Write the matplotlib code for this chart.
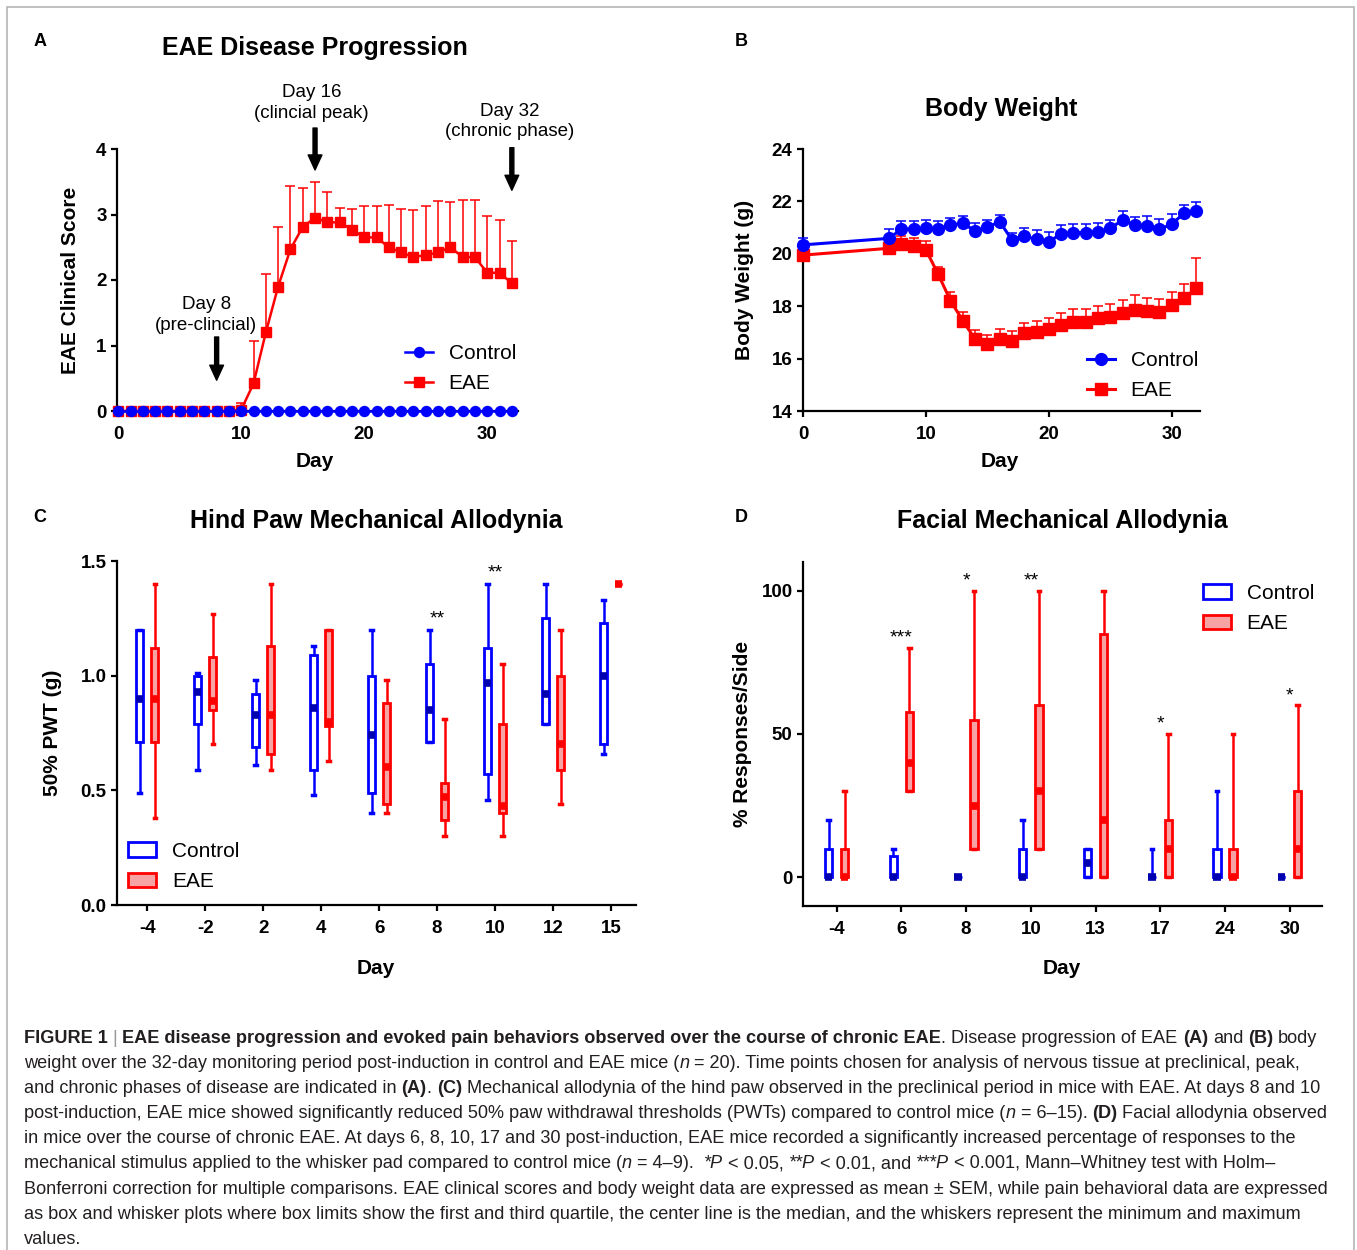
import matplotlib
matplotlib.use("Agg")
import matplotlib.pyplot as plt
import numpy as np
from matplotlib import font_manager
from matplotlib.font_manager import FontProperties
from matplotlib.lines import Line2D
from matplotlib.patches import Patch, Rectangle

# ---------------- data ----------------
# A: EAE clinical score (mean, upper SEM)
days_a = [0, 1, 2, 3, 4, 5, 6, 7, 8, 9, 10, 11, 12, 13, 14, 15, 16,
          17, 18, 19, 20, 21, 22, 23, 24, 25, 26, 27, 28, 29, 30, 31, 32]
ctrl_score = [0, 0, 0, 0, 0, 0, 0, 0, 0, 0, 0, 0, 0, 0, 0, 0, 0,
              0, 0, 0, 0, 0, 0, 0, 0, 0, 0, 0, 0, 0, 0, 0, 0]
eae_score = [0, 0, 0, 0, 0, 0, 0, 0, 0, 0, 0.02, 0.42, 1.20, 1.90, 2.47, 2.81, 2.95,
             2.88, 2.88, 2.77, 2.65, 2.65, 2.50, 2.42, 2.35, 2.38, 2.42, 2.50, 2.35, 2.35, 2.11, 2.11, 1.95]
eae_score_sem = [0, 0, 0, 0, 0, 0, 0, 0, 0, 0, 0.10, 0.65, 0.89, 0.91, 0.96, 0.60, 0.54,
                 0.47, 0.22, 0.32, 0.48, 0.48, 0.64, 0.67, 0.72, 0.75, 0.79, 0.69, 0.87, 0.87, 0.87, 0.80, 0.65]
arrow_days = [8, 16, 32]
arrow_labels = ["Day 8\n(pre-clincial)", "Day 16\n(clincial peak)", "Day 32\n(chronic phase)"]

# B: body weight (g)
days_b = [0, 7, 8, 9, 10, 11, 12, 13, 14, 15, 16, 17, 18, 19, 20,
          21, 22, 23, 24, 25, 26, 27, 28, 29, 30, 31, 32]
ctrl_weight = [20.34, 20.59, 20.94, 20.95, 20.97, 20.95, 21.10, 21.16, 20.88, 21.01, 21.23, 20.53, 20.68, 20.55,
               20.46, 20.76, 20.81, 20.81, 20.84, 20.97, 21.29, 21.10, 21.06, 20.94, 21.13, 21.55, 21.63]
ctrl_weight_sem = [0.28, 0.36, 0.31, 0.31, 0.32, 0.31, 0.28, 0.28, 0.31, 0.28, 0.25, 0.28, 0.32, 0.36,
                   0.36, 0.34, 0.32, 0.32, 0.32, 0.32, 0.34, 0.29, 0.38, 0.37, 0.39, 0.31, 0.36]
eae_weight = [19.95, 20.21, 20.36, 20.30, 20.15, 19.22, 18.21, 17.45, 16.74, 16.55, 16.75, 16.67, 16.99, 17.03,
              17.13, 17.28, 17.41, 17.41, 17.54, 17.60, 17.75, 17.85, 17.83, 17.79, 18.05, 18.30, 18.68]
eae_weight_sem = [0.25, 0.25, 0.32, 0.32, 0.34, 0.29, 0.32, 0.34, 0.35, 0.35, 0.37, 0.38, 0.36, 0.42,
                  0.41, 0.45, 0.47, 0.47, 0.48, 0.48, 0.49, 0.58, 0.49, 0.47, 0.48, 0.54, 1.15]

# C: hind paw 50% PWT (g) box stats
days_c = ["-4", "-2", "2", "4", "6", "8", "10", "12", "15"]
ctrl_c_min = [0.49, 0.59, 0.61, 0.48, 0.40, 0.71, 0.46, 0.79, 0.66]
ctrl_c_q1 = [0.71, 0.79, 0.69, 0.59, 0.49, 0.71, 0.57, 0.79, 0.70]
ctrl_c_med = [0.90, 0.93, 0.83, 0.86, 0.74, 0.85, 0.97, 0.92, 1.00]
ctrl_c_q3 = [1.20, 1.00, 0.92, 1.09, 1.00, 1.05, 1.12, 1.25, 1.23]
ctrl_c_max = [1.20, 1.01, 0.98, 1.13, 1.20, 1.20, 1.40, 1.40, 1.33]
eae_c_min = [0.38, 0.70, 0.59, 0.63, 0.40, 0.30, 0.30, 0.44, 1.40]
eae_c_q1 = [0.71, 0.85, 0.66, 0.78, 0.44, 0.37, 0.40, 0.59, 1.40]
eae_c_med = [0.90, 0.89, 0.83, 0.80, 0.60, 0.47, 0.43, 0.70, 1.40]
eae_c_q3 = [1.12, 1.08, 1.13, 1.20, 0.88, 0.53, 0.79, 1.00, 1.40]
eae_c_max = [1.40, 1.27, 1.40, 1.20, 0.98, 0.81, 1.05, 1.20, 1.40]
sig_c = ["", "", "", "", "", "**", "**", "", ""]

# D: facial % responses/side box stats
days_d = ["-4", "6", "8", "10", "13", "17", "24", "30"]
ctrl_d_min = [0, 0, 0, 0, 0, 0, 0, 0]
ctrl_d_q1 = [0, 0, 0, 0, 0, 0, 0, 0]
ctrl_d_med = [0, 0, 0, 0, 5, 0, 0, 0]
ctrl_d_q3 = [10, 7.5, 0, 10, 10, 0, 10, 0]
ctrl_d_max = [20, 10, 0, 20, 10, 10, 30, 0]
eae_d_min = [0, 30, 10, 10, 0, 0, 0, 0]
eae_d_q1 = [0, 30, 10, 10, 0, 0, 0, 0]
eae_d_med = [0, 40, 25, 30, 20, 10, 0, 10]
eae_d_q3 = [10, 57.5, 55, 60, 85, 20, 10, 30]
eae_d_max = [30, 80, 100, 100, 100, 50, 50, 60]
sig_d = ["", "***", "*", "**", "", "*", "", "*"]

# caption (text, style): b = bold, n = normal, i = italic, g = grey separator
caption = [
    [("FIGURE 1", "b"), (" | ", "g"),
     ("EAE disease progression and evoked pain behaviors observed over the course of chronic EAE", "b"),
     (". Disease progression of EAE ", "n"), ("(A)", "b"), (" and ", "n"), ("(B)", "b"), (" body", "n")],
    [("weight over the 32-day monitoring period post-induction in control and EAE mice (", "n"), ("n", "i"),
     (" = 20). Time points chosen for analysis of nervous tissue at preclinical, peak,", "n")],
    [("and chronic phases of disease are indicated in ", "n"), ("(A)", "b"), (". ", "n"), ("(C)", "b"),
     (" Mechanical allodynia of the hind paw observed in the preclinical period in mice with EAE. At days 8 and 10", "n")],
    [("post-induction, EAE mice showed significantly reduced 50% paw withdrawal thresholds (PWTs) compared to control mice (", "n"),
     ("n", "i"), (" = 6\u201315). ", "n"), ("(D)", "b"), (" Facial allodynia observed", "n")],
    [("in mice over the course of chronic EAE. At days 6, 8, 10, 17 and 30 post-induction, EAE mice recorded a significantly increased percentage of responses to the", "n")],
    [("mechanical stimulus applied to the whisker pad compared to control mice (", "n"), ("n", "i"),
     (" = 4\u20139).  ", "n"), ("*P", "i"), (" < 0.05, ", "n"), ("**P", "i"), (" < 0.01, and ", "n"),
     ("***P", "i"), (" < 0.001, Mann\u2013Whitney test with Holm\u2013", "n")],
    [("Bonferroni correction for multiple comparisons. EAE clinical scores and body weight data are expressed as mean \u00b1 SEM, while pain behavioral data are expressed", "n")],
    [("as box and whisker plots where box limits show the first and third quartile, the center line is the median, and the whiskers represent the minimum and maximum", "n")],
    [("values.", "n")],
]

# ---------------- layout / style ----------------
W, H = 1357, 1250
BLUE = "#0000ff"
RED = "#ff0000"
SALMON = "#f7a3a3"
NAVY = "#0000b0"

plt.rcParams["font.family"] = ["Liberation Sans", "DejaVu Sans"]
fig = plt.figure(figsize=(W / 100, H / 100), dpi=100, facecolor="white")


def fx(x):
    return x / W


def fy(y):
    return 1 - y / H


def axes_px(l, t, r, b):
    return fig.add_axes([fx(l), fy(b), (r - l) / W, (b - t) / H])


def style(ax):
    ax.set_facecolor("none")
    for s in ("top", "right"):
        ax.spines[s].set_visible(False)
    for s in ("left", "bottom"):
        ax.spines[s].set_linewidth(1.6)
    ax.tick_params(direction="out", length=4.5, width=1.6, labelsize=13.5)
    ax.tick_params(axis="x", pad=6.5)
    ax.tick_params(axis="y", pad=3)
    plt.setp(ax.get_xticklabels() + ax.get_yticklabels(), fontweight="bold")


def ftext(x, y, s, **kw):
    return fig.text(fx(x), fy(y), s, **kw)


leg_kw = dict(loc="upper left", bbox_transform=fig.transFigure, frameon=False, borderpad=0, fontsize=15,
              handlelength=1.35, handletextpad=0.75, labelspacing=0.55, borderaxespad=0)

# frame
fig.patches.append(Rectangle((fx(7), fy(1262)), (1354 - 7) / W, (1262 - 7) / H, transform=fig.transFigure,
                             fill=False, ec="#b5b5b5", lw=1.2))

# ---- panel A ----
ax_a = axes_px(117, 149, 518, 411)
ax_a.errorbar(days_a, eae_score, yerr=[np.zeros(len(eae_score_sem)), eae_score_sem], fmt="-s", color=RED,
              ms=6.5, lw=1.8, elinewidth=1.1, capsize=3.5, capthick=1.1, clip_on=False, zorder=3)
ax_a.plot(days_a, ctrl_score, "-o", color=BLUE, ms=7.2, lw=1.8, clip_on=False, zorder=4)
ax_a.set_xlim(-0.1, 32.5)
ax_a.set_ylim(0, 4)
ax_a.set_xticks([0, 10, 20, 30])
ax_a.set_yticks([0, 1, 2, 3, 4])
style(ax_a)
# arrows: (tip, tail, text x, text y)
arrow_geom = [(0.47, 1.13, 7.15, 1.47), (3.68, 4.32, 15.7, 4.70), (3.37, 4.02, 31.8, 4.42)]
for d, lab, (tip, tail, tx, ty) in zip(arrow_days, arrow_labels, arrow_geom):
    ax_a.annotate("", xy=(d, tip), xytext=(d, tail), annotation_clip=False,
                  arrowprops=dict(arrowstyle="simple,head_length=0.6,head_width=0.55,tail_width=0.16",
                                  mutation_scale=18, fc="k", ec="k", shrinkA=0, shrinkB=0))
    ax_a.text(tx, ty, lab, ha="center", va="center", fontsize=13.5, linespacing=1.28, clip_on=False)
ax_a.legend([Line2D([], [], color=BLUE, marker="o", ms=7.2, lw=1.8),
             Line2D([], [], color=RED, marker="s", ms=6.5, lw=1.8)], ["Control", "EAE"],
            bbox_to_anchor=(fx(405), fy(344)), **leg_kw)

# ---- panel B ----
ax_b = axes_px(803, 149, 1200, 411)
ax_b.errorbar(days_b, eae_weight, yerr=[np.zeros(len(eae_weight_sem)), eae_weight_sem], fmt="-s", color=RED,
              ms=8, lw=2.2, elinewidth=1.1, capsize=3.5, capthick=1.1, clip_on=False, zorder=3)
ax_b.errorbar(days_b, ctrl_weight, yerr=[np.zeros(len(ctrl_weight_sem)), ctrl_weight_sem], fmt="-o", color=BLUE,
              ms=8.5, lw=2.2, elinewidth=1.1, capsize=3.5, capthick=1.1, clip_on=False, zorder=4)
ax_b.set_xlim(0, 32.3)
ax_b.set_ylim(14, 24)
ax_b.set_xticks([0, 10, 20, 30])
ax_b.set_yticks([14, 16, 18, 20, 22, 24])
style(ax_b)
ax_b.legend([Line2D([], [], color=BLUE, marker="o", ms=8.5, lw=2.2),
             Line2D([], [], color=RED, marker="s", ms=8, lw=2.2)], ["Control", "EAE"],
            bbox_to_anchor=(fx(1087), fy(351)), **leg_kw)


def draw_boxes(ax, pos, mins, q1s, meds, q3s, maxs, edge, face, medc):
    stats = [dict(whislo=a, q1=b, med=c, q3=d, whishi=e) for a, b, c, d, e in zip(mins, q1s, meds, q3s, maxs)]
    ax.bxp(stats, positions=pos, widths=0.115, patch_artist=True, showfliers=False, capwidths=0.04,
           manage_ticks=False,
           boxprops=dict(facecolor=face, edgecolor=edge, linewidth=2.0),
           whiskerprops=dict(color=edge, linewidth=1.8),
           capprops=dict(color=edge, linewidth=2.5),
           medianprops=dict(color=medc, linewidth=5.5, solid_capstyle="butt"))


def box_legend(ax, x0, y0):
    ax.legend([Patch(facecolor="white", edgecolor=BLUE, linewidth=2.0),
               Patch(facecolor=SALMON, edgecolor=RED, linewidth=2.0)], ["Control", "EAE"],
              bbox_to_anchor=(fx(x0), fy(y0)), handleheight=0.7, **leg_kw)


# ---- panel C ----
ax_c = axes_px(117, 561, 636, 905)
xc = np.arange(len(days_c))
draw_boxes(ax_c, xc - 0.13, ctrl_c_min, ctrl_c_q1, ctrl_c_med, ctrl_c_q3, ctrl_c_max, BLUE, "white", NAVY)
draw_boxes(ax_c, xc + 0.13, eae_c_min, eae_c_q1, eae_c_med, eae_c_q3, eae_c_max, RED, SALMON, RED)
for i, s in enumerate(sig_c):
    if s:
        top = max(ctrl_c_max[i], eae_c_max[i])
        ax_c.annotate(s, xy=(i, top), xytext=(0, 8), textcoords="offset points", ha="center", va="center",
                      fontsize=14)
ax_c.set_xlim(-0.52, 8.43)
ax_c.set_ylim(0, 1.5)
ax_c.set_xticks(xc, days_c)
ax_c.set_yticks([0.0, 0.5, 1.0, 1.5], ["0.0", "0.5", "1.0", "1.5"])
style(ax_c)
box_legend(ax_c, 128, 842)

# ---- panel D ----
ax_d = axes_px(803, 562, 1322, 906)
xd = np.arange(len(days_d))
draw_boxes(ax_d, xd - 0.125, ctrl_d_min, ctrl_d_q1, ctrl_d_med, ctrl_d_q3, ctrl_d_max, BLUE, "white", NAVY)
draw_boxes(ax_d, xd + 0.125, eae_d_min, eae_d_q1, eae_d_med, eae_d_q3, eae_d_max, RED, SALMON, RED)
for i, s in enumerate(sig_d):
    if s:
        top = max(ctrl_d_max[i], eae_d_max[i])
        ax_d.annotate(s, xy=(i, top), xytext=(0, 7), textcoords="offset points", ha="center", va="center",
                      fontsize=14)
ax_d.set_xlim(-0.52, 7.5)
ax_d.set_ylim(-10, 110)
ax_d.set_xticks(xd, days_d)
ax_d.set_yticks([0, 50, 100])
style(ax_d)
box_legend(ax_d, 1203, 584)

# ---- titles, labels ----
title_kw = dict(fontsize=18, fontweight="bold", ha="center", va="center")
ftext(315, 48, "EAE Disease Progression", **title_kw)
ftext(1001, 109, "Body Weight", **title_kw)
ftext(376, 521, "Hind Paw Mechanical Allodynia", **title_kw)
ftext(1062, 521, "Facial Mechanical Allodynia", **title_kw)
for x, y, s in [(40, 42, "A"), (741, 42, "B"), (40, 518, "C"), (741, 518, "D")]:
    ftext(x, y, s, fontsize=13, fontweight="bold", ha="center", va="center")
lab_kw = dict(fontsize=15, fontweight="bold", ha="center", va="center")
for x, y in [(315, 462), (1000, 462), (376, 969), (1062, 969)]:
    ftext(x, y, "Day", **lab_kw)
ftext(70, 280, "EAE Clinical Score", rotation=90, **lab_kw)
ftext(744, 280, "Body Weight (g)", rotation=90, **lab_kw)
ftext(52, 733, "50% PWT (g)", rotation=90, **lab_kw)
ftext(742, 734, "% Responses/Side", rotation=90, **lab_kw)

# ---- caption ----
names = {f.name for f in font_manager.fontManager.ttflist}
cap_family = "Liberation Sans Narrow" if "Liberation Sans Narrow" in names else "Liberation Sans"
renderer = fig.canvas.get_renderer()


def props(size):
    return {
        "n": FontProperties(family=cap_family, size=size),
        "g": FontProperties(family=cap_family, size=size),
        "b": FontProperties(family=cap_family, size=size, weight="bold"),
        "i": FontProperties(family=cap_family, size=size, style="italic"),
    }


def adv(s, prop):
    w1 = renderer.get_text_width_height_descent("|" + s + "|", prop, ismath=False)[0]
    w0 = renderer.get_text_width_height_descent("||", prop, ismath=False)[0]
    return w1 - w0


# right ends of the full caption lines in the reference
line_ends = [1330, 1303, 1316, 1327, 1300, 1287, 1325, 1303]
base = props(12)
ratios = sorted((end - 24) / sum(adv(t, base[st]) for t, st in line)
                for end, line in zip(line_ends, caption))
cap_size = 12 * ratios[len(ratios) // 2]
cp = props(cap_size)
for k, line in enumerate(caption):
    x = 24
    yb = 1043 + 25.1 * k
    for txt, st in line:
        prop = cp[st]
        lead = len(txt) - len(txt.lstrip(" "))
        core = txt.strip(" ")
        if core:
            x0 = x + (adv(" " * lead, prop) if lead else 0)
            fig.text(fx(x0), fy(yb), core, fontproperties=prop, ha="left", va="baseline",
                     color="#999999" if st == "g" else "#231f20")
        x += adv(txt, prop)

fig.savefig("out.png", dpi=100, facecolor="white")
